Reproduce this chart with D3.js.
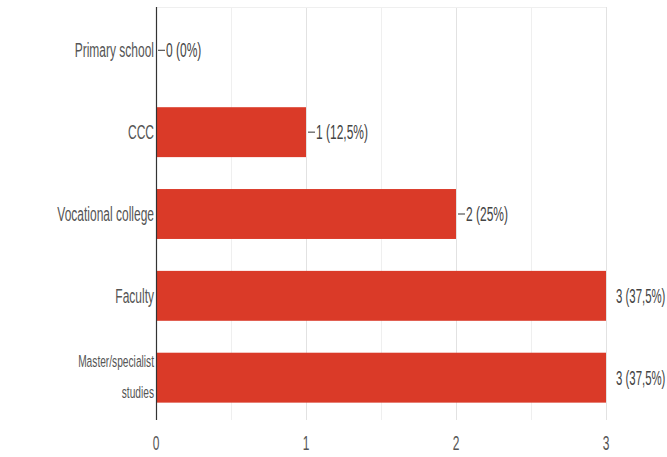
<!DOCTYPE html>
<html>
<head>
<meta charset="utf-8">
<script src="https://cdn.jsdelivr.net/npm/d3@7"></script>
<style>
  html, body { margin: 0; padding: 0; background: #fff; }
  svg { display: block; }
  text { font-family: "Liberation Sans", Arial, sans-serif; }
</style>
</head>
<body>
<svg id="chart" width="667" height="457"></svg>
<script>
// Education level of respondents
const categories = ["Primary school", "CCC", "Vocational college", "Faculty", "Master/specialist studies"];
const counts = [0, 1, 2, 3, 3];
const percentLabels = ["0%", "12,5%", "25%", "37,5%", "37,5%"];
const xTicks = [0, 1, 2, 3];
const gridValues = [0.5, 1, 1.5, 2, 2.5, 3];

const svg = d3.select("#chart");
const W = 667, H = 457;
const plotTop = 7, plotBottom = 420;
const SX = 0.6; // condensed lettering

const x = d3.scaleLinear().domain([0, 3]).range([156, 606]);
const y = d3.scaleBand().domain(categories).range([9, 419]).paddingInner(0.39).paddingOuter(0.2);

// places a horizontally condensed text at (tx, ty)
function label(g, tx, ty, str, size, anchor, sx) {
  return g.append("text")
    .attr("transform", `translate(${tx},${ty}) scale(${sx || SX},1)`)
    .attr("font-size", size)
    .attr("text-anchor", anchor || "start")
    .text(str);
}

// vertical gridlines
svg.append("g").selectAll("line").data(gridValues).join("line")
  .attr("x1", d => Math.round(x(d)) + 0.5).attr("x2", d => Math.round(x(d)) + 0.5)
  .attr("y1", plotTop).attr("y2", plotBottom)
  .attr("stroke", d => Number.isInteger(d) ? "#e2e2e2" : "#efefef")
  .attr("stroke-width", 1);

// top edge of the plot
svg.append("line")
  .attr("x1", x(0)).attr("x2", x(3))
  .attr("y1", plotTop + 0.5).attr("y2", plotTop + 0.5)
  .attr("stroke", "#efefef");

// bars
svg.append("g").selectAll("rect").data(categories).join("rect")
  .attr("x", x(0))
  .attr("y", d => y(d))
  .attr("width", (d, i) => x(counts[i]) - x(0))
  .attr("height", y.bandwidth())
  .attr("fill", "#da3a28");

// category axis line
svg.append("line")
  .attr("x1", x(0) + 0.5).attr("x2", x(0) + 0.5)
  .attr("y1", plotTop).attr("y2", plotBottom)
  .attr("stroke", "#333").attr("stroke-width", 1.2);

// category labels
const catG = svg.append("g").attr("fill", "#555");
categories.forEach(c => {
  const cy = y(c) + y.bandwidth() / 2;
  if (c === "Master/specialist studies") {
    label(catG, x(0) - 2, cy - 11, "Master/specialist", 17, "end");
    label(catG, x(0) - 2, cy + 20, "studies", 17, "end");
  } else {
    label(catG, x(0) - 2, cy + 7, c, 20, "end");
  }
});

// value labels with leader marks
const valG = svg.append("g").attr("fill", "#444");
const maxCount = d3.max(counts);
categories.forEach((c, i) => {
  const cy = y(c) + y.bandwidth() / 2;
  const v = counts[i];
  const xe = x(v);
  const atMax = v === maxCount;
  if (!atMax) {
    valG.append("line")
      .attr("x1", xe + 2).attr("x2", xe + 9)
      .attr("y1", cy).attr("y2", cy)
      .attr("stroke", "#555").attr("stroke-width", 1.2);
  }
  label(valG, atMax ? xe + 10 : xe + 10, cy + 7, `${v} (${percentLabels[i]})`, 20, "start", atMax ? 0.57 : SX);
});

// x axis tick labels
const tickG = svg.append("g").attr("fill", "#555");
xTicks.forEach(t => label(tickG, x(t), 450, String(t), 20, "middle"));
</script>
</body>
</html>
